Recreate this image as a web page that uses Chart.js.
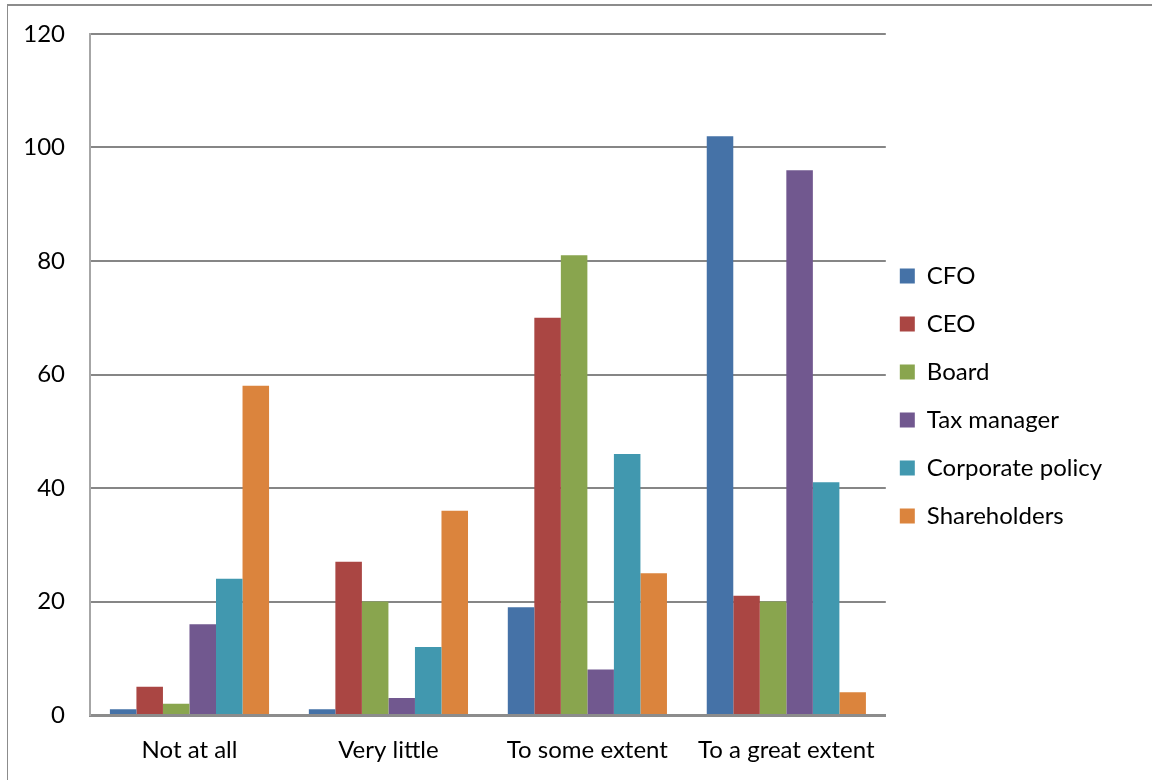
<!DOCTYPE html>
<html>
<head>
<meta charset="utf-8">
<script src="https://cdn.jsdelivr.net/npm/chart.js@4"></script>
<style>
  html, body { margin: 0; padding: 0; background: #fff; overflow: hidden; }
  #frame {
    position: absolute; left: 7px; top: 4px; width: 1200px; height: 800px;
    border-left: 1px solid #8c8c8c; border-top: 2px solid #8c8c8c;
  }
  #wrap { position: absolute; left: 0; top: 0; width: 1152px; height: 780px; }
</style>
</head>
<body>
<div id="frame"></div>
<div id="wrap"><canvas id="chart" width="1152" height="780"></canvas></div>
<script>
const categories = ['Not at all', 'Very little', 'To some extent', 'To a great extent'];
const yTicks = [0, 20, 40, 60, 80, 100, 120];

const cfo = [1, 1, 19, 102];
const ceo = [5, 27, 70, 21];
const board = [2, 20, 81, 20];
const taxManager = [16, 3, 8, 96];
const corporatePolicy = [24, 12, 46, 41];
const shareholders = [58, 36, 25, 4];

const fontFamily = 'Lato, "Open Sans", sans-serif';

function ds(label, data, color) {
  return { label: label, data: data, backgroundColor: color, borderWidth: 0 };
}

// nudge the legend up and left a little to sit where the original has it
const legendShift = {
  id: 'legendShift',
  afterLayout(chart) {
    const lg = chart.legend;
    lg.top -= 11;
    lg.bottom -= 11;
    lg.left -= 10;
    lg.right -= 10;
  }
};

const ctx = document.getElementById('chart').getContext('2d');
new Chart(ctx, {
  type: 'bar',
  data: {
    labels: categories,
    datasets: [
      ds('CFO', cfo, '#4572A7'),
      ds('CEO', ceo, '#AA4643'),
      ds('Board', board, '#89A54E'),
      ds('Tax manager', taxManager, '#71588F'),
      ds('Corporate policy', corporatePolicy, '#4198AF'),
      ds('Shareholders', shareholders, '#DB843D')
    ]
  },
  plugins: [legendShift],
  options: {
    responsive: false,
    animation: false,
    layout: { padding: { top: 34, right: 30, bottom: 0, left: 0 } },
    datasets: { bar: { barPercentage: 1, categoryPercentage: 0.8 } },
    scales: {
      x: {
        grid: { display: false, drawTicks: false },
        border: { color: '#8c8c8c', width: 3 },
        ticks: { color: '#000', font: { family: fontFamily, size: 24 }, padding: 21 },
        afterFit: s => { s.height = 65; }
      },
      y: {
        min: 0, max: 120,
        afterBuildTicks: s => { s.ticks = yTicks.map(v => ({ value: v })); },
        grid: { color: '#868686', lineWidth: 2, drawTicks: false },
        border: { color: '#a6a6a6', width: 2 },
        ticks: { color: '#000', font: { family: fontFamily, size: 24 }, padding: 25 },
        afterFit: s => { s.width = 90; s.paddingTop = 0; s.paddingBottom = 0; }
      }
    },
    plugins: {
      tooltip: { enabled: false },
      legend: {
        position: 'right',
        labels: {
          color: '#000',
          boxWidth: 15, boxHeight: 15,
          padding: 24,
          font: { family: fontFamily, size: 24 }
        }
      }
    }
  }
});
</script>
</body>
</html>
